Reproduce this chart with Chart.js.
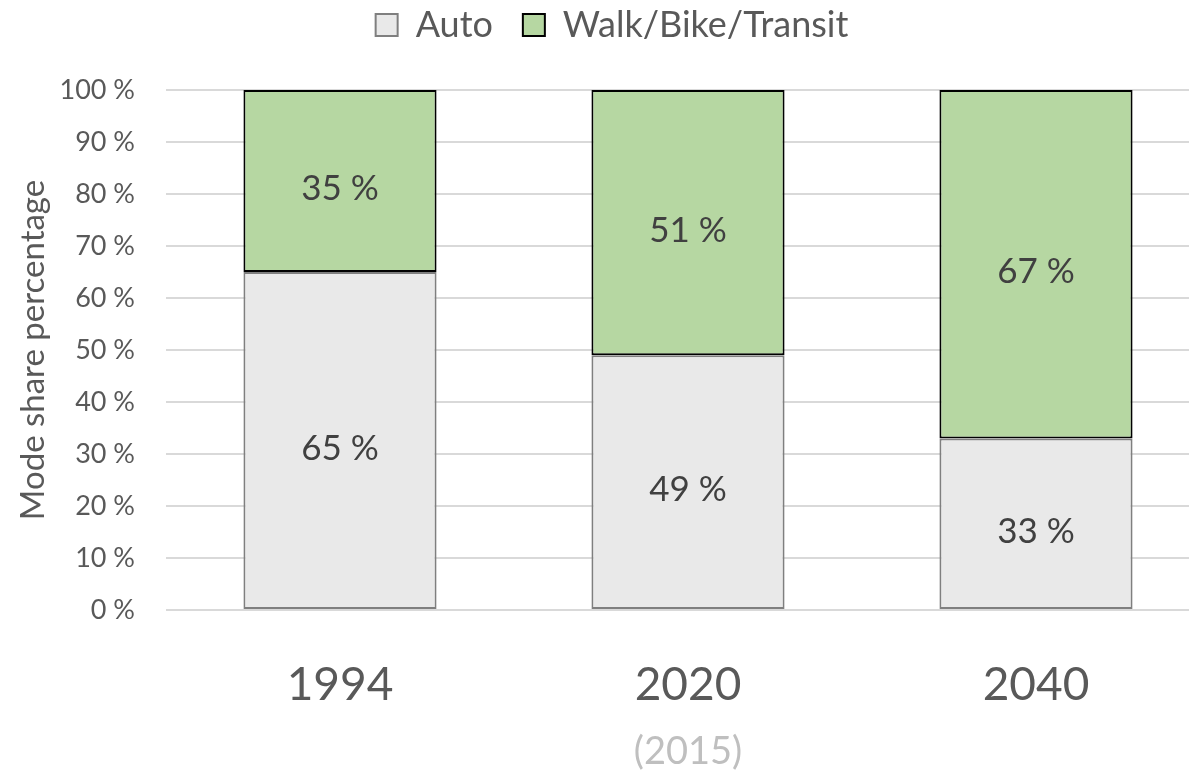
<!DOCTYPE html>
<html>
<head>
<meta charset="utf-8">
<script src="https://cdn.jsdelivr.net/npm/chart.js@4/dist/chart.umd.min.js"></script>
<style>
  html, body { margin: 0; padding: 0; background: #ffffff; overflow: hidden; }
  #wrap { width: 1212px; height: 771px; position: relative; }
</style>
</head>
<body>
<div id="wrap"><canvas id="c"></canvas></div>
<script>
const categories = ['1994', '2020', '2040'];
const subLabels = ['', '(2015)', ''];
const autoShare = [65, 49, 33];
const activeShare = [35, 51, 67];
const seriesNames = ['Auto', 'Walk/Bike/Transit'];
const yTicks = [0, 10, 20, 30, 40, 50, 60, 70, 80, 90, 100];
const yTitle = 'Mode share percentage';

const FONT = 'Lato, "Open Sans", sans-serif';

const legendSpace = {
  id: 'legendSpace',
  beforeInit(chart) {
    const lg = chart.legend;
    const origFit = lg.fit;
    lg.fit = function () {
      origFit.call(this);
      this.height = 113;
    };
    const origDraw = lg.draw;
    lg.draw = function () {
      const ctx = this.ctx;
      ctx.save();
      ctx.translate(7, 0);
      origDraw.call(this);
      ctx.restore();
    };
  }
};

const valueLabels = {
  id: 'valueLabels',
  afterDatasetsDraw(chart) {
    const ctx = chart.ctx;
    ctx.save();
    ctx.font = '35px ' + FONT;
    ctx.fillStyle = '#404040';
    ctx.textAlign = 'center';
    ctx.textBaseline = 'middle';
    chart.data.datasets.forEach((ds, di) => {
      const meta = chart.getDatasetMeta(di);
      meta.data.forEach((el, i) => {
        const mid = (el.y + el.base) / 2 + 8;
        ctx.fillText(ds.data[i] + ' %', el.x, mid);
      });
    });
    ctx.restore();
  }
};

const subLabelPlugin = {
  id: 'subLabelPlugin',
  afterDraw(chart) {
    const ctx = chart.ctx;
    const xs = chart.scales.x;
    ctx.save();
    ctx.font = '38px ' + FONT;
    ctx.fillStyle = '#bfbfbf';
    ctx.textAlign = 'center';
    ctx.textBaseline = 'middle';
    subLabels.forEach((s, i) => {
      if (s) ctx.fillText(s, xs.getPixelForValue(i), chart.chartArea.bottom + 142);
    });
    ctx.restore();
  }
};

new Chart(document.getElementById('c'), {
  type: 'bar',
  data: {
    labels: categories,
    datasets: [
      {
        label: seriesNames[0],
        data: autoShare,
        backgroundColor: '#e9e9e9',
        borderColor: '#7f7f7f',
        borderWidth: 2,
        borderSkipped: false
      },
      {
        label: seriesNames[1],
        data: activeShare,
        backgroundColor: '#b6d7a2',
        borderColor: '#000000',
        borderWidth: 2,
        borderSkipped: false
      }
    ]
  },
  options: {
    responsive: true,
    maintainAspectRatio: false,
    animation: false,
    devicePixelRatio: 1,
    layout: { padding: { top: -23, right: 2, left: 0, bottom: 0 } },
    datasets: { bar: { categoryPercentage: 1, barPercentage: 0.555 } },
    plugins: {
      legend: {
        position: 'top',
        labels: {
          font: { family: FONT, size: 36 },
          color: '#595959',
          boxWidth: 22,
          boxHeight: 22,
          padding: 30
        }
      },
      tooltip: { enabled: false }
    },
    scales: {
      x: {
        stacked: true,
        grid: { display: false, drawTicks: false },
        border: { display: false },
        ticks: {
          font: { family: FONT, size: 46 },
          color: '#595959',
          padding: 48
        },
        afterFit(s) { s.height = 161; }
      },
      y: {
        stacked: true,
        min: 0,
        max: 100,
        afterBuildTicks(s) { s.ticks = yTicks.map(v => ({ value: v })); },
        grid: { color: '#d9d9d9', lineWidth: 2, drawTicks: false },
        border: { display: false },
        ticks: {
          font: { family: FONT, size: 27 },
          color: '#595959',
          padding: 31,
          callback: v => v + ' %'
        },
        title: {
          display: true,
          text: yTitle,
          font: { family: FONT, size: 33 },
          color: '#595959',
          padding: { top: 14, bottom: 0 }
        },
        afterFit(s) { s.width = 166; }
      }
    }
  },
  plugins: [legendSpace, valueLabels, subLabelPlugin]
});
</script>
</body>
</html>
